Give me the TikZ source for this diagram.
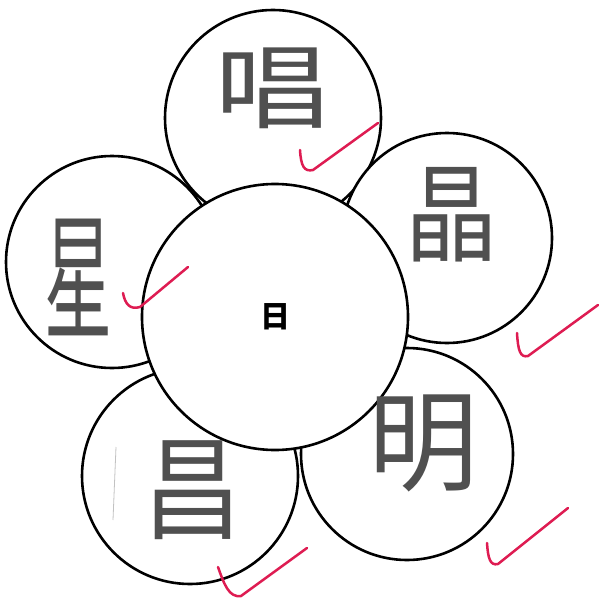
\documentclass[tikz,border=0pt]{standalone}
\usepackage{fontspec}
\newfontfamily\cjk{Noto Sans CJK SC}
\definecolor{crayon}{RGB}{80,80,80}
\definecolor{correction}{RGB}{222,28,82}
\tikzset{
  petale/.style={circle, draw=black, line width=2.6pt, fill=white, inner sep=0pt, minimum size=#1},
  ecrit/.style={text=crayon, inner sep=0pt, font=\cjk\fontsize{#1}{#1}\selectfont},
  coche/.style={correction, line width=2.5pt, line cap=round, line join=round},
}

\begin{document}
\begin{tikzpicture}[x=1pt, y=-1pt]
\useasboundingbox (0,0) rectangle (599,602);

% Pétales
\node[petale=212pt] (gauche) at (112,262) {};
\node[petale=216pt] (haut) at (273,118) {};
\node[petale=210pt] (droite) at (447,238) {};
\node[petale=212pt] (basdroite) at (407,454) {};
\node[petale=216pt] (basgauche) at (190,476) {};

% Coeur de la fleur
\node[petale=266pt] (coeur) at (275,317) {};
\node[text=black, inner sep=0pt, font=\cjk\bfseries\fontsize{30}{30}\selectfont] (ri) at (coeur) {日};

% Caractères écrits à la main
\node[ecrit=95] (chang) at (272,88) {\scalebox{1.22}[0.97]{唱}};
\node[ecrit=105] (jing) at (452,215) {\scalebox{0.88}[1.02]{晶}};
\node[ecrit=100] (xing) at (78,277) {\scalebox{0.68}[1.37]{星}};
\node[ecrit=110] (ming) at (423,443) {明};
\node[ecrit=112] (chang2) at (193,490) {\scalebox{0.88}[1]{昌}};
\draw[crayon!35, line width=0.8pt] (116,447) -- (113,520);

% Coches de correction
\draw[coche] (300,150) .. controls (301,166) and (304,172) .. (313,170) -- (378,123);
\draw[coche] (123,293) .. controls (125,304) and (130,310) .. (140,307) -- (188,267);
\draw[coche] (517,333) .. controls (518,350) and (520,358) .. (528,356) -- (598,305);
\draw[coche] (487,543) .. controls (488,558) and (490,566) .. (498,564) -- (568,508);
\draw[coche] (218,567) .. controls (224,584) and (229,598) .. (241,596) -- (307,548);
\end{tikzpicture}
\end{document}
